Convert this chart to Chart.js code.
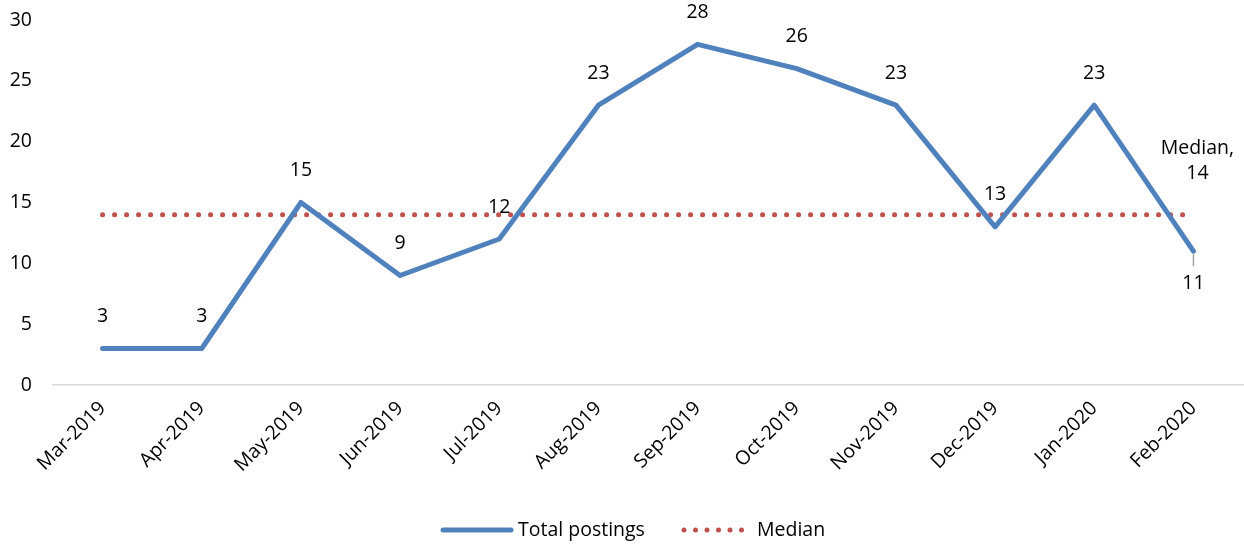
<!DOCTYPE html>
<html>
<head>
<meta charset="utf-8">
<script src="https://cdn.jsdelivr.net/npm/chart.js@4/dist/chart.umd.min.js"></script>
<style>
  html, body { margin: 0; padding: 0; background: #fff; }
  #wrap { width: 1244px; height: 544px; position: relative; }
</style>
</head>
<body>
<div id="wrap"><canvas id="chart"></canvas></div>
<script>
'use strict';

// ── Data ──────────────────────────────────────────────────────────────────
var MONTHS = ['Mar-2019', 'Apr-2019', 'May-2019', 'Jun-2019', 'Jul-2019', 'Aug-2019',
              'Sep-2019', 'Oct-2019', 'Nov-2019', 'Dec-2019', 'Jan-2020', 'Feb-2020'];
var POSTINGS = [3, 3, 15, 9, 12, 23, 28, 26, 23, 13, 23, 11];
var MEDIAN = [14, 14, 14, 14, 14, 14, 14, 14, 14, 14, 14, 14];
var Y_TICKS = [0, 5, 10, 15, 20, 25, 30];

var FONT = '"Open Sans", "DejaVu Sans", sans-serif';
var BLUE = '#4F81BD';
var RED = '#C0504D';

// ── Data labels + legend (drawn by hand) ──────────────────────────────────
var labelsPlugin = {
  id: 'pointLabels',
  afterDatasetsDraw: function (chart) {
    var ctx = chart.ctx;
    var meta = chart.getDatasetMeta(0);
    var last = meta.data.length - 1;
    ctx.save();
    ctx.font = '19.5px ' + FONT;
    ctx.fillStyle = '#000';
    ctx.textAlign = 'center';
    ctx.textBaseline = 'middle';
    meta.data.forEach(function (pt, i) {
      if (i === last) {
        ctx.fillText(String(POSTINGS[i]), pt.x, pt.y + 32);
      } else {
        ctx.fillText(String(POSTINGS[i]), pt.x, pt.y - 32);
      }
    });
    // median callout on the last point
    var m = chart.getDatasetMeta(1).data[last];
    ctx.fillText('Median,', m.x + 4, m.y - 66);
    ctx.fillText(String(MEDIAN[last]), m.x + 4, m.y - 41);
    // leader line under last posting point
    var p = meta.data[last];
    ctx.strokeStyle = '#A6A6A6';
    ctx.lineWidth = 1.5;
    ctx.beginPath();
    ctx.moveTo(p.x, p.y + 3);
    ctx.lineTo(p.x, p.y + 15);
    ctx.stroke();
    ctx.restore();
  },
  afterDraw: function (chart) {
    var ctx = chart.ctx;
    var y = 530;
    ctx.save();
    ctx.font = '19.5px ' + FONT;
    ctx.fillStyle = '#000';
    ctx.textBaseline = 'middle';
    ctx.textAlign = 'left';
    // Total postings
    ctx.strokeStyle = BLUE;
    ctx.lineWidth = 5;
    ctx.lineCap = 'round';
    ctx.beginPath();
    ctx.moveTo(443, y);
    ctx.lineTo(511, y);
    ctx.stroke();
    ctx.fillText('Total postings', 518, y);
    // Median
    ctx.strokeStyle = RED;
    ctx.setLineDash([0, 11.5]);
    ctx.beginPath();
    ctx.moveTo(684, y);
    ctx.lineTo(742, y);
    ctx.stroke();
    ctx.setLineDash([]);
    ctx.fillText('Median', 757, y);
    ctx.restore();
  }
};

new Chart(document.getElementById('chart'), {
  type: 'line',
  data: {
    labels: MONTHS,
    datasets: [{
      label: 'Total postings',
      data: POSTINGS,
      borderColor: BLUE,
      backgroundColor: BLUE,
      borderWidth: 5,
      borderCapStyle: 'round',
      borderJoinStyle: 'round',
      pointRadius: 0,
      tension: 0,
    }, {
      label: 'Median',
      data: MEDIAN,
      borderColor: RED,
      backgroundColor: RED,
      borderWidth: 5,
      borderDash: [0, 12],
      borderCapStyle: 'round',
      pointRadius: 0,
      tension: 0,
    }],
  },
  options: {
    responsive: true,
    maintainAspectRatio: false,
    animation: false,
    layout: { padding: { top: 0, right: 1, left: 0, bottom: 0 } },
    scales: {
      x: {
        offset: true,
        grid: { display: false },
        border: { display: true, color: '#D9D9D9', width: 1.5 },
        ticks: {
          color: '#000',
          font: { family: FONT, size: 19.5 },
          minRotation: 45,
          maxRotation: 45,
          padding: 4,
        },
        afterFit: function (s) { s.height = 159; },
      },
      y: {
        min: 0,
        max: 30,
        grid: { display: false },
        border: { display: false },
        afterBuildTicks: function (s) {
          s.ticks = Y_TICKS.map(function (v) { return { value: v }; });
        },
        ticks: {
          color: '#000',
          font: { family: FONT, size: 19.5, lineHeight: 1.0 },
          padding: 13,
        },
        afterFit: function (s) { s.width = 53; s.paddingTop = 20; },
      },
    },
    plugins: {
      legend: { display: false },
      tooltip: { enabled: false },
    },
  },
  plugins: [labelsPlugin],
});
</script>
</body>
</html>
